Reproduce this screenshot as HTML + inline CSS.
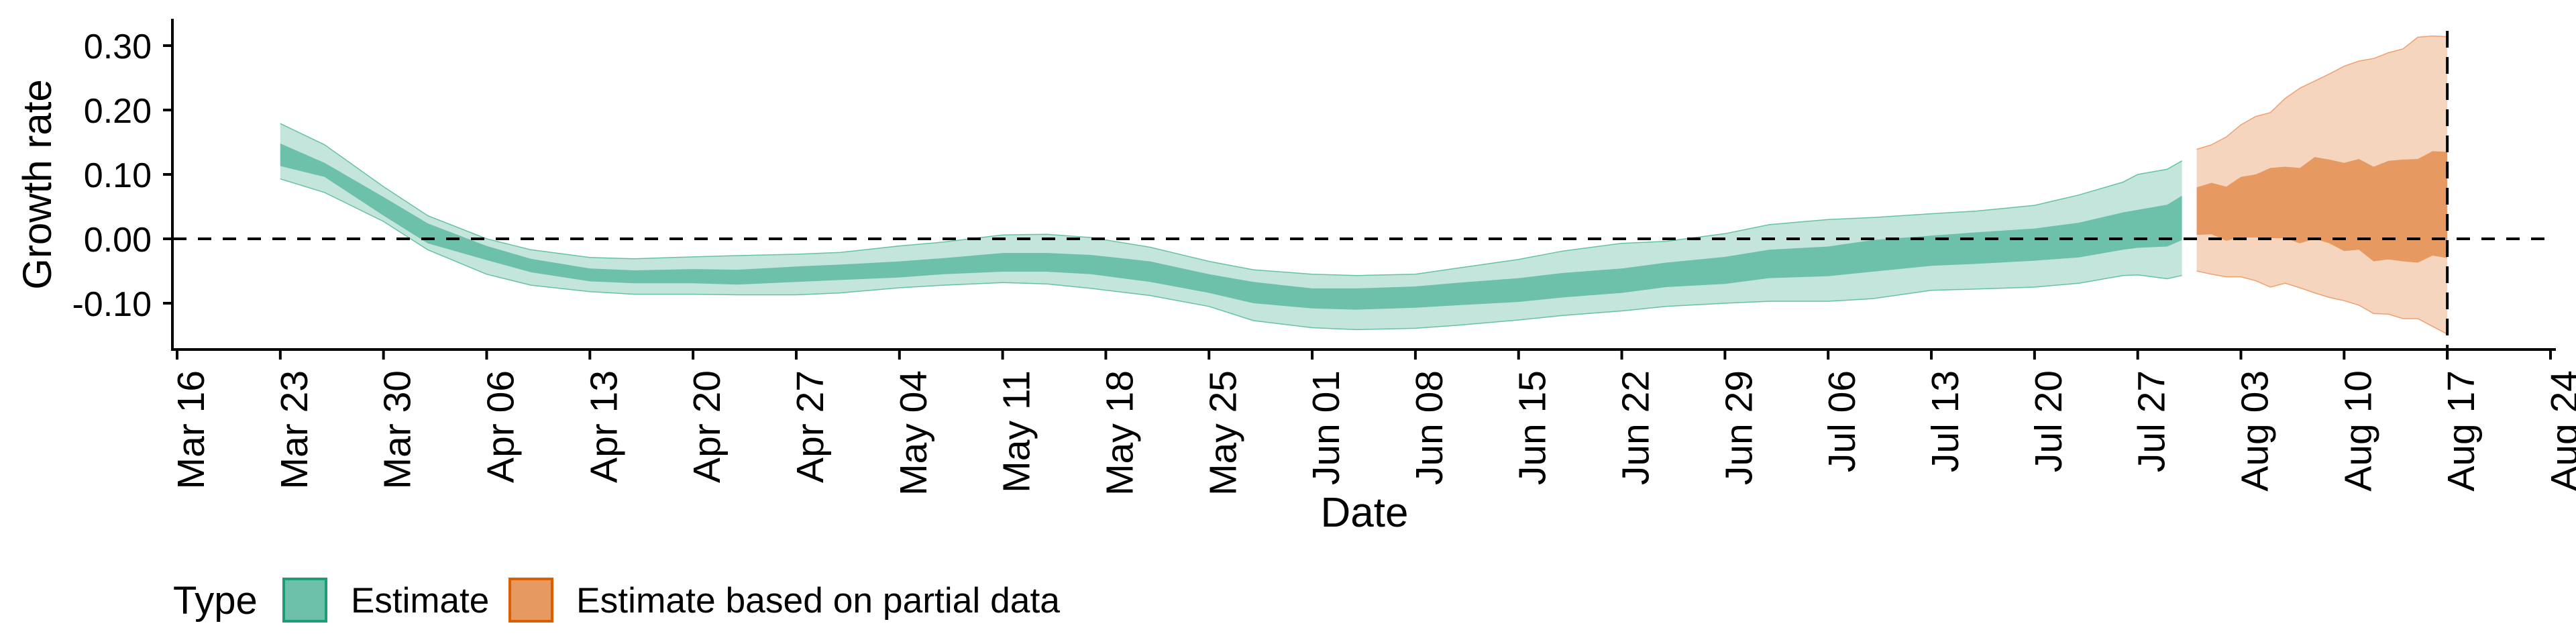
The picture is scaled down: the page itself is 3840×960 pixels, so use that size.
<!DOCTYPE html>
<html><head><meta charset="utf-8"><style>
html,body{margin:0;padding:0;background:#fff}
svg{display:block;font-family:"Liberation Sans",Arial,sans-serif}
</style></head><body>
<svg id="chart" width="3840" height="960" viewBox="0 0 3840 960" xmlns="http://www.w3.org/2000/svg">
<g id="bands"></g>
<g id="axes"></g>
<text transform="translate(76,275) rotate(-90)" text-anchor="middle" font-size="60">Growth rate</text>
<text x="2034" y="785" text-anchor="middle" font-size="62">Date</text>
<g>
<text x="258" y="915" font-size="58">Type</text>
<rect x="423" y="863" width="63" height="63" fill="#6dc0aa" stroke="#1b9e77" stroke-width="4"/>
<text x="523" y="913" font-size="53">Estimate</text>
<rect x="760" y="863" width="63" height="63" fill="#e69a61" stroke="#d95f02" stroke-width="4"/>
<text x="859" y="913" font-size="53" textLength="721" lengthAdjust="spacingAndGlyphs">Estimate based on partial data</text>
</g>
</svg>
<script>
const greenDays=[7,10,14,17,21,24,28,31,35,38,42,45,49,52,56,59,62,66,70,73,77,80,84,87,91,94,98,101,105,108,112,115,119,122,126,129,132,133,135,136];
const greenL90=[.093,.072,.027,-.017,-.055,-.072,-.082,-.086,-.086,-.087,-.087,-.084,-.076,-.072,-.068,-.070,-.077,-.088,-.105,-.127,-.138,-.141,-.139,-.134,-.126,-.119,-.112,-.105,-.100,-.097,-.097,-.093,-.080,-.078,-.075,-.069,-.057,-.056,-.062,-.057];
const greenL50=[.113,.096,.036,-.007,-.033,-.052,-.066,-.069,-.069,-.071,-.067,-.064,-.060,-.055,-.051,-.051,-.055,-.067,-.084,-.100,-.108,-.110,-.107,-.103,-.098,-.091,-.084,-.075,-.070,-.061,-.058,-.051,-.042,-.039,-.034,-.029,-.017,-.014,-.012,-.002];
const greenU50=[.148,.118,.065,.024,-.011,-.031,-.046,-.049,-.047,-.048,-.043,-.040,-.035,-.030,-.022,-.022,-.025,-.035,-.055,-.067,-.077,-.077,-.074,-.068,-.061,-.053,-.046,-.037,-.028,-.017,-.012,-.002,.005,.010,.016,.025,.041,.045,.053,.067];
const greenU90=[.179,.146,.081,.036,0,-.017,-.029,-.031,-.028,-.026,-.024,-.021,-.011,-.005,.006,.007,.002,-.013,-.035,-.048,-.055,-.057,-.055,-.045,-.032,-.019,-.007,-.004,.008,.022,.030,.033,.039,.043,.052,.068,.088,.100,.108,.121];
const orangeDays=[137,138,139,140,141,142,143,144,145,146,147,148,149,150,151,152,153,154];
const orangeL90=[-.050,-.055,-.059,-.059,-.065,-.075,-.069,-.076,-.084,-.091,-.096,-.103,-.116,-.117,-.124,-.124,-.136,-.148];
const orangeL50=[.006,.007,-.003,.002,.002,.001,.001,-.007,0,-.007,-.019,-.017,-.035,-.032,-.035,-.037,-.026,-.030];
const orangeU50=[.080,.087,.081,.096,.100,.110,.112,.110,.127,.123,.118,.124,.112,.121,.123,.124,.136,.135];
const orangeU90=[.139,.146,.158,.177,.190,.196,.218,.234,.245,.256,.268,.276,.280,.289,.295,.313,.315,.314];
const yTicks=[0.30,0.20,0.10,0.00,-0.10];
const yTickLabels=["0.30","0.20","0.10","0.00","-0.10"];
const xTickDays=[0,7,14,21,28,35,42,49,56,63,70,77,84,91,98,105,112,119,126,133,140,147,154,161];
const xTickLabels=["Mar 16","Mar 23","Mar 30","Apr 06","Apr 13","Apr 20","Apr 27","May 04","May 11","May 18","May 25","Jun 01","Jun 08","Jun 15","Jun 22","Jun 29","Jul 06","Jul 13","Jul 20","Jul 27","Aug 03","Aug 10","Aug 17","Aug 24"];
const cutoffDay=154;

const NS="http://www.w3.org/2000/svg";
function xS(d){return 264+21.975*d;}
function yS(v){return 356-960*v;}
function mk(tag,attrs,parent){const e=document.createElementNS(NS,tag);for(const k in attrs)e.setAttribute(k,attrs[k]);parent.appendChild(e);return e;}
function poly(days,lo,hi){let p=[];for(let i=0;i<days.length;i++)p.push(xS(days[i]).toFixed(1)+","+yS(hi[i]).toFixed(1));for(let i=days.length-1;i>=0;i--)p.push(xS(days[i]).toFixed(1)+","+yS(lo[i]).toFixed(1));return p.join(" ");}
function line(days,v){return days.map((d,i)=>xS(d).toFixed(1)+","+yS(v[i]).toFixed(1)).join(" ");}
const bands=document.getElementById('bands');
function drawBand(days,l90,l50,u50,u90,light,dark,edge,name){
  let e=mk('polygon',{points:poly(days,l90,u90),fill:light},bands);
  
  
  e=mk('polyline',{points:line(days,u90),fill:'none',stroke:edge,'stroke-width':1.5},bands);
  
  
  e=mk('polyline',{points:line(days,l90),fill:'none',stroke:edge,'stroke-width':1.5},bands);
  
  
  e=mk('polygon',{points:poly(days,l50,u50),fill:dark},bands);
  
  
}
drawBand(greenDays,greenL90,greenL50,greenU50,greenU90,'#c4e5dc','#6dc0aa','#66c2a5','estimate');
drawBand(orangeDays,orangeL90,orangeL50,orangeU50,orangeU90,'#f5d5bd','#e69a61','#f0a070','partial');

const axes=document.getElementById('axes');
let e;
e=mk('line',{x1:258,y1:356,x2:3806,y2:356,stroke:'#000','stroke-width':4,'stroke-dasharray':'20 17'},axes);


e=mk('line',{x1:xS(cutoffDay),y1:46,x2:xS(cutoffDay),y2:536,stroke:'#000','stroke-width':4,'stroke-dasharray':'25 14'},axes);


e=mk('line',{x1:257,y1:28,x2:257,y2:523,stroke:'#000','stroke-width':4},axes);


e=mk('line',{x1:255,y1:521,x2:3810,y2:521,stroke:'#000','stroke-width':4},axes);


yTicks.forEach((v,i)=>{
  let t=mk('line',{x1:243,y1:yS(v),x2:257,y2:yS(v),stroke:'#000','stroke-width':4},axes);
  
  
  let l=mk('text',{x:226,y:yS(v)+19,'text-anchor':'end','font-size':52},axes);
  l.textContent=yTickLabels[i];
  
  
});
xTickDays.forEach((d,i)=>{
  let t=mk('line',{x1:xS(d),y1:521,x2:xS(d),y2:536,stroke:'#000','stroke-width':4},axes);
  
  
  let l=mk('text',{transform:'translate('+(xS(d)+40).toFixed(1)+',552) rotate(-90)','text-anchor':'end','font-size':57},axes);
  l.textContent=xTickLabels[i];
  
  
});
</script>
</body></html>
